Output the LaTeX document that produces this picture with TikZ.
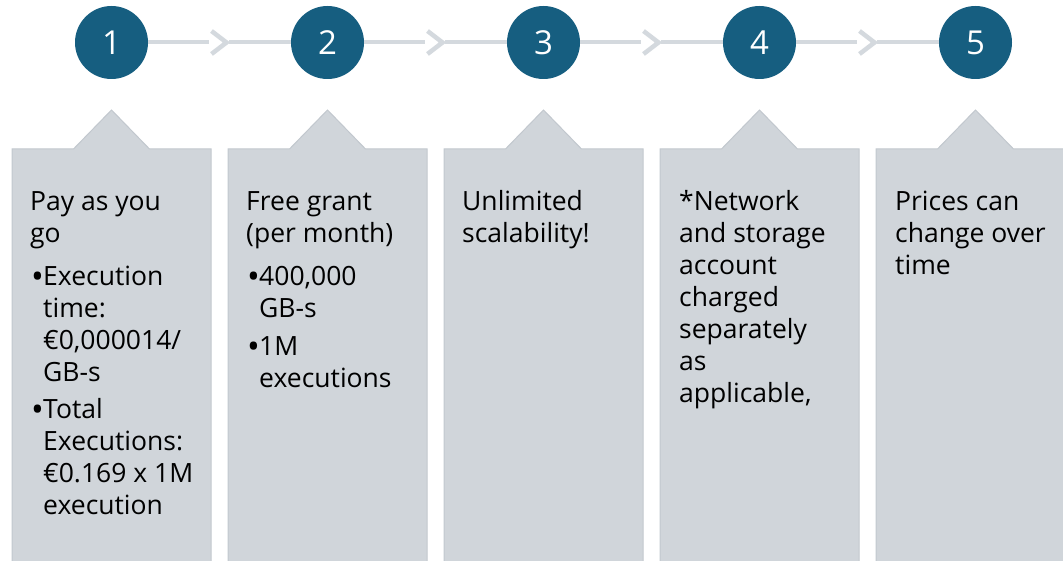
\documentclass[tikz,border=0pt]{standalone}
\usepackage{fontspec}
\setmainfont{Open Sans}
\usetikzlibrary{calc}
\definecolor{stepblue}{RGB}{22,94,128}
\definecolor{panelgray}{RGB}{208,213,218}
\definecolor{paneledge}{RGB}{194,200,206}
\definecolor{linkgray}{RGB}{212,217,222}
\newcommand{\paneltext}[1]{\parbox[t]{190pt}{\raggedright #1}}
\newcommand{\itemdot}{\makebox[13pt][l]{\hspace{1pt}\raisebox{-3pt}{\fontsize{34}{32}\selectfont•}}}
\newcommand{\itemgap}{\hspace*{13pt}}
\tikzset{
  num/.style={circle, fill=stepblue, minimum size=73pt, inner sep=0pt, text=white, font=\fontsize{33}{40}\selectfont},
  panel/.style={fill=panelgray, draw=paneledge, line width=1pt},
  link/.style={linkgray, line width=4pt},
  chev/.style={linkgray, line width=4.5pt, miter limit=10},
  body/.style={anchor=base west, inner sep=0pt, font=\fontsize{26.5}{32}\selectfont},
}
\begin{document}
\begin{tikzpicture}[x=1pt,y=-1pt]
    \useasboundingbox (0,0) rectangle (1063,561);
    \clip (0,0) rectangle (1063,561);
    % panels with their notch, and the numbered circles
    \foreach \i in {1,...,5}{
        \pgfmathsetmacro{\cx}{111.5+216*(\i-1)}
        \draw[panel] (\cx-99.5,149) -- (\cx-38,149) -- (\cx,110) -- (\cx+38,149) -- (\cx+99.5,149) -- (\cx+99.5,575) -- (\cx-99.5,575) -- cycle;
        \node[num] (c\i) at (\cx,42.5) {\i};
    }
    % connectors with a chevron half way
    \foreach \i [count=\j from 2] in {1,...,4}{
        \coordinate (m\i) at ($(c\i)!0.5!(c\j)$);
        \draw[link] (c\i) -- ($(m\i)+(-11,0)$);
        \draw[link] ($(m\i)+(9,0)$) -- (c\j);
        \draw[chev] ($(m\i)+(-8,-11.5)$) -- ($(m\i)+(7,0)$) -- ($(m\i)+(-8,11.5)$);
    }
    % panel texts
    \node[body] (t1) at (30,211) {\paneltext{Pay as you\\go\\[11pt]\itemdot Execution\\\itemgap time:\\\itemgap €0,000014/\\\itemgap GB-s\\[5pt]\itemdot Total\\\itemgap Executions:\\\itemgap €0.169 x 1M\\\itemgap execution}};
    \node[body] (t2) at (246,211) {\paneltext{Free grant\\(per month)\\[11pt]\itemdot 400,000\\\itemgap GB-s\\[6pt]\itemdot 1M\\\itemgap executions}};
    \node[body] (t3) at (462,211) {\paneltext{Unlimited\\scalability!}};
    \node[body] (t4) at (679,211) {\paneltext{*Network\\and storage\\account\\charged\\separately\\as\\applicable,}};
    \node[body] (t5) at (895,211) {\paneltext{Prices can\\change over\\time}};
\end{tikzpicture}
\end{document}
